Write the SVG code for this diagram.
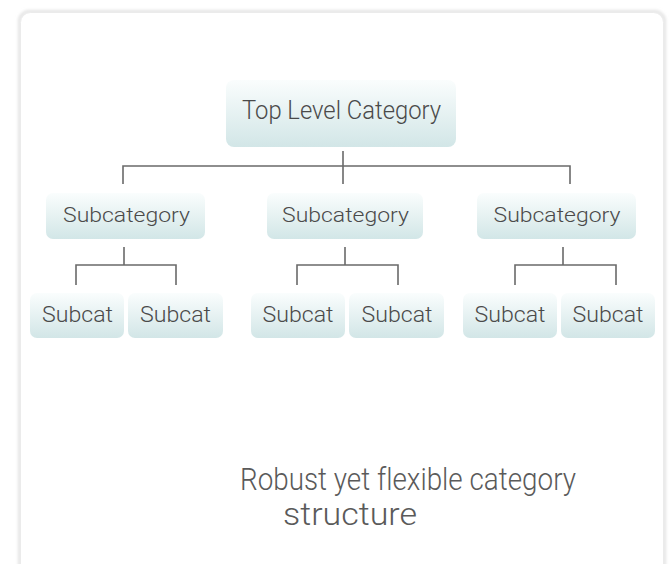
<svg xmlns="http://www.w3.org/2000/svg" width="669" height="564" viewBox="0 0 669 564">
<defs>
<linearGradient id="nodeGrad" x1="0" y1="0" x2="0" y2="1">
<stop offset="0" stop-color="#fafdfd"/>
<stop offset="1" stop-color="#d2e6e7"/>
</linearGradient>
<filter id="shadow" x="-5%" y="-5%" width="110%" height="110%">
<feGaussianBlur stdDeviation="1.5"/>
</filter>
</defs>
<style>
.node rect{fill:url(#nodeGrad);}
.lbl{font-family:Roboto,"Liberation Sans",Arial,sans-serif;font-weight:300;fill:#4a4a4a;text-anchor:middle;}
.conn{fill:none;stroke:#6a6a6a;stroke-width:1.6;}
.cap{font-family:Roboto,"Liberation Sans",Arial,sans-serif;font-weight:300;fill:#5a5a5a;text-anchor:middle;font-size:31px;font-variant-ligatures:none;}
</style>
<rect width="669" height="564" fill="#ffffff"/>
<g id="card">
<rect x="19.5" y="11.5" width="645" height="600" rx="10" fill="none" stroke="#e2e2e2" stroke-width="3" filter="url(#shadow)"/>
<rect x="20.5" y="12.5" width="643" height="600" rx="10" fill="#ffffff" stroke="#ebebeb" stroke-width="1"/>
</g>
<g id="connectors">
<path class="conn" d="M343 151V184M123 184V166H570V184"/>
<path class="conn" d="M124 247V265M76 285V265H176V285"/>
<path class="conn" d="M345 247V265M297 285V265H398V285"/>
<path class="conn" d="M563 247V265M515 285V265H616V285"/>
</g>
<g id="top" class="node">
<rect x="226" y="80" width="230" height="67" rx="8"/>
<text class="lbl" x="341.5" y="119" font-size="26" textLength="199" lengthAdjust="spacingAndGlyphs">Top Level Category</text>
</g>
<g id="sub1" class="node">
<rect x="46" y="193" width="159" height="46" rx="7"/>
<text class="lbl" x="126.5" y="222" font-size="21" textLength="127" lengthAdjust="spacingAndGlyphs">Subcategory</text>
</g>
<g id="sub2" class="node">
<rect x="267" y="193" width="156" height="46" rx="7"/>
<text class="lbl" x="345.5" y="222" font-size="21" textLength="127" lengthAdjust="spacingAndGlyphs">Subcategory</text>
</g>
<g id="sub3" class="node">
<rect x="477" y="193" width="159" height="46" rx="7"/>
<text class="lbl" x="557" y="222" font-size="21" textLength="127" lengthAdjust="spacingAndGlyphs">Subcategory</text>
</g>
<g id="leaf1" class="node">
<rect x="30" y="293" width="94" height="45" rx="7"/>
<text class="lbl" x="77.5" y="322" font-size="22" textLength="71" lengthAdjust="spacingAndGlyphs">Subcat</text>
</g>
<g id="leaf2" class="node">
<rect x="128" y="293" width="95" height="45" rx="7"/>
<text class="lbl" x="175.5" y="322" font-size="22" textLength="71" lengthAdjust="spacingAndGlyphs">Subcat</text>
</g>
<g id="leaf3" class="node">
<rect x="251" y="293" width="94" height="45" rx="7"/>
<text class="lbl" x="298" y="322" font-size="22" textLength="71" lengthAdjust="spacingAndGlyphs">Subcat</text>
</g>
<g id="leaf4" class="node">
<rect x="349" y="293" width="95" height="45" rx="7"/>
<text class="lbl" x="397" y="322" font-size="22" textLength="71" lengthAdjust="spacingAndGlyphs">Subcat</text>
</g>
<g id="leaf5" class="node">
<rect x="463" y="293" width="94" height="45" rx="7"/>
<text class="lbl" x="510" y="322" font-size="22" textLength="71" lengthAdjust="spacingAndGlyphs">Subcat</text>
</g>
<g id="leaf6" class="node">
<rect x="561" y="293" width="94" height="45" rx="7"/>
<text class="lbl" x="608" y="322" font-size="22" textLength="71" lengthAdjust="spacingAndGlyphs">Subcat</text>
</g>
<g id="caption">
<text class="cap" x="408" y="490" textLength="336" lengthAdjust="spacingAndGlyphs">Robust yet flexible category</text>
<text class="cap" x="350" y="525" textLength="134" lengthAdjust="spacingAndGlyphs">structure</text>
</g>
</svg>
